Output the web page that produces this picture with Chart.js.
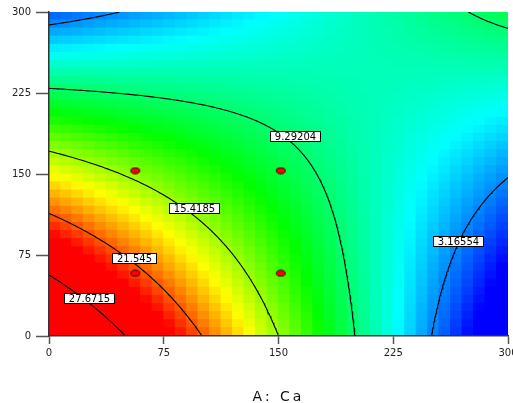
<!DOCTYPE html>
<html><head><meta charset="utf-8">
<script src="https://cdn.jsdelivr.net/npm/chart.js@4.4.1/dist/chart.umd.min.js"></script>
<style>html,body{margin:0;padding:0;background:#fff;overflow:hidden}#wrap{width:513px;height:403px}</style>
</head><body><div id="wrap"><canvas id="c" width="513" height="403"></canvas></div>
<script>
// ---- values ----
const xTicks = [0, 75, 150, 225, 300];
const yTicks = [0, 75, 150, 225, 300];
const xTitle = 'A: Ca';
const contourLevels = [3.16554, 9.29204, 15.4185, 21.545, 27.6715];
const labelX = [267.5, 160.5, 95.0, 55.8, 26.3];
const labelY = [88.2, 185.6, 118.2, 72.5, 35.5];
const designX = [56.4, 151.5, 56.4, 151.5];
const designY = [153.1, 153.1, 58.1, 58.1];
// response-surface model estimated from the contours: terms and coefficients
const modelTerms = ['Intercept', 'A', 'B', 'AB', 'B^2'];
const modelCoef = [33.798, -0.12253, -0.10894, 0.000498, 0.000009];
const colorRange = [0, 23.6];
const gridCells = 40;

function surface(a, b) {
  return modelCoef[0] + modelCoef[1] * a + modelCoef[2] * b + modelCoef[3] * a * b + modelCoef[4] * b * b;
}
function rainbow(v) {
  let t = (v - colorRange[0]) / (colorRange[1] - colorRange[0]);
  t = Math.max(0, Math.min(1, t));
  let r, g, b;
  if (t < 0.25) { r = 0; g = t / 0.25 * 255; b = 255; }
  else if (t < 0.5) { r = 0; g = 255; b = (0.5 - t) / 0.25 * 255; }
  else if (t < 0.75) { r = (t - 0.5) / 0.25 * 255; g = 255; b = 0; }
  else { r = 255; g = (1 - t) / 0.25 * 255; b = 0; }
  return 'rgb(' + Math.round(r) + ',' + Math.round(g) + ',' + Math.round(b) + ')';
}
function contourLines(level, n) {
  const st = 300 / n;
  const V = [];
  for (let i = 0; i <= n; i++) { V.push([]); for (let j = 0; j <= n; j++) V[i].push(surface(i * st, j * st)); }
  const pts = {}, adj = {};
  const cross = (p, q) => (p < level) !== (q < level);
  const pt = (key, x1, y1, p, x2, y2, q) => {
    if (!pts[key]) { const t = (level - p) / (q - p); pts[key] = {x: x1 + (x2 - x1) * t, y: y1 + (y2 - y1) * t}; }
    return key;
  };
  const link = (p, q) => { (adj[p] = adj[p] || []).push(q); (adj[q] = adj[q] || []).push(p); };
  for (let i = 0; i < n; i++) for (let j = 0; j < n; j++) {
    const a = V[i][j], b = V[i + 1][j], c = V[i + 1][j + 1], d = V[i][j + 1];
    const x0 = i * st, x1 = (i + 1) * st, y0 = j * st, y1 = (j + 1) * st;
    const e = [
      cross(a, b) ? pt('h' + i + '_' + j, x0, y0, a, x1, y0, b) : null,
      cross(b, c) ? pt('v' + (i + 1) + '_' + j, x1, y0, b, x1, y1, c) : null,
      cross(d, c) ? pt('h' + i + '_' + (j + 1), x0, y1, d, x1, y1, c) : null,
      cross(a, d) ? pt('v' + i + '_' + j, x0, y0, a, x0, y1, d) : null
    ];
    const k = e.filter(Boolean);
    if (k.length === 2) link(k[0], k[1]);
    else if (k.length === 4) {
      const m = (a + b + c + d) / 4;
      if ((a < level) === (m < level)) { link(e[0], e[1]); link(e[2], e[3]); }
      else { link(e[0], e[3]); link(e[1], e[2]); }
    }
  }
  const used = {}, lines = [];
  const walk = (s) => {
    const line = [s]; used[s] = true; let cur = s;
    while (true) {
      const nx = (adj[cur] || []).find(q => !used[q]);
      if (!nx) break;
      used[nx] = true; line.push(nx); cur = nx;
    }
    if (line.length > 2 && adj[cur].includes(s)) line.push(s);
    return line.map(key => ({x: pts[key].x, y: pts[key].y}));
  };
  Object.keys(adj).forEach(key => { if (adj[key].length === 1 && !used[key]) lines.push(walk(key)); });
  Object.keys(adj).forEach(key => { if (!used[key]) lines.push(walk(key)); });
  return lines;
}

// ---- datasets ----
const datasets = [];
const cw = 300 / gridCells;
for (let r = 0; r < gridCells; r++) {
  const y0 = r * cw, y1 = (r + 1) * cw, yc = (y0 + y1) / 2;
  const data = [], colors = [];
  for (let c = 0; c < gridCells; c++) {
    const xc = (c + 0.5) * cw;
    data.push({x: xc, y: [y0, y1]});
    colors.push(rainbow(surface(xc, yc)));
  }
  datasets.push({type: 'bar', data, backgroundColor: colors, borderWidth: 0, grouped: false,
    barPercentage: 1, categoryPercentage: 1, inflateAmount: 0.6, order: 10, clip: 0});
}
contourLevels.forEach(lv => {
  contourLines(lv, 200).forEach(poly => datasets.push({type: 'line', data: poly, borderColor: '#000',
    borderWidth: 1.1, pointRadius: 0, tension: 0, fill: false, order: 2, clip: 0}));
});
const dot = document.createElement('canvas'); dot.width = 12; dot.height = 8;
(function () {
  const dc = dot.getContext('2d');
  dc.beginPath(); dc.ellipse(6, 4, 4.4, 3.0, 0, 0, Math.PI * 2);
  dc.fillStyle = '#ff0000'; dc.fill(); dc.lineWidth = 1; dc.strokeStyle = '#300000'; dc.stroke();
})();
datasets.push({type: 'line', showLine: false, data: designX.map((x, i) => ({x, y: designY[i]})),
  pointStyle: dot, pointRadius: 4, order: 1});

const spacingPlugin = {
  id: 'spacing',
  beforeDraw(c) { c.ctx.letterSpacing = '3px'; },
  beforeDatasetsDraw(c) { c.ctx.letterSpacing = '0px'; },
  afterDraw(c) { c.ctx.letterSpacing = '0px'; }
};
const labelPlugin = {
  id: 'contourLabels',
  afterDatasetsDraw(chart) {
    const {ctx, scales: {x, y}} = chart;
    ctx.save();
    ctx.font = '10px "DejaVu Sans"'; ctx.textAlign = 'center'; ctx.textBaseline = 'middle';
    contourLevels.forEach((lv, i) => {
      const px = x.getPixelForValue(labelX[i]), py = y.getPixelForValue(labelY[i]);
      const txt = String(lv);
      const w = Math.round(ctx.measureText(txt).width + 9), h = 10;
      const l = Math.round(px - w / 2) + 0.5, t = Math.round(py - h / 2) + 0.5;
      ctx.fillStyle = '#fff'; ctx.fillRect(l, t, w, h);
      ctx.strokeStyle = '#000'; ctx.lineWidth = 1; ctx.strokeRect(l, t, w, h);
      ctx.fillStyle = '#000'; ctx.fillText(txt, l + w / 2, t + h / 2 + 0.5);
    });
    ctx.restore();
  }
};

new Chart(document.getElementById('c'), {
  type: 'bar',
  data: {datasets},
  plugins: [spacingPlugin, labelPlugin],
  options: {
    responsive: false, devicePixelRatio: 1, animation: false, events: [],
    layout: {padding: {top: 12, left: 0, right: 0, bottom: 0}},
    plugins: {legend: {display: false}, tooltip: {enabled: false}},
    scales: {
      x: {
        type: 'linear', min: xTicks[0], max: xTicks[xTicks.length - 1], offset: false,
        afterBuildTicks: s => { s.ticks = xTicks.map(v => ({value: v})); },
        ticks: {font: {family: 'DejaVu Sans', size: 10}, color: '#222', padding: 3, maxRotation: 0, autoSkip: false, z: 1},
        grid: {display: true, drawOnChartArea: false, drawTicks: true, tickLength: 8, tickColor: '#555', tickWidth: 1.5, offset: false},
        border: {display: true, color: '#333', width: 1.5, z: 1},
        title: {display: true, text: xTitle, font: {family: 'DejaVu Sans', size: 14, lineHeight: 0.86}, color: '#111', padding: {top: 0, bottom: 0}},
        afterFit: s => { s.height = 67; s.paddingLeft = 0; s.paddingRight = 0; }
      },
      y: {
        type: 'linear', min: yTicks[0], max: yTicks[yTicks.length - 1],
        afterBuildTicks: s => { s.ticks = yTicks.map(v => ({value: v})); },
        ticks: {font: {family: 'DejaVu Sans', size: 10}, color: '#222', padding: 5, autoSkip: false, z: 1},
        grid: {display: true, drawOnChartArea: false, drawTicks: true, tickLength: 13, tickColor: '#555', tickWidth: 1.5},
        border: {display: true, color: '#333', width: 1.5, z: 1},
        afterFit: s => { s.width = 49; s.paddingTop = 0; s.paddingBottom = 0; }
      }
    }
  }
});
</script></body></html>
